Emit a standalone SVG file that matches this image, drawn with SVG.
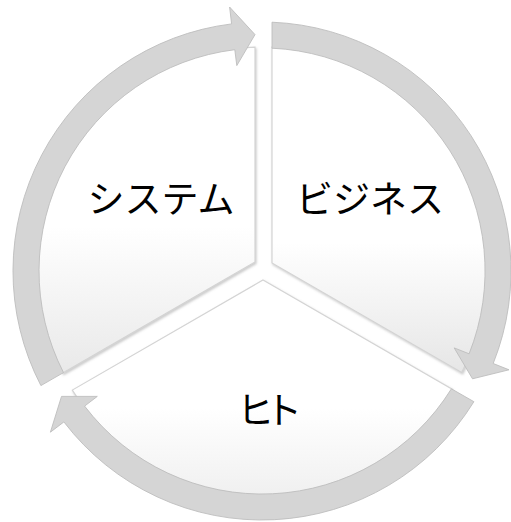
<svg xmlns="http://www.w3.org/2000/svg" width="511" height="522" viewBox="0 0 511 522">
  <style>
    .wedge { stroke: #d4d4d4; stroke-width: 1.2; filter: url(#shadow); }
    .arrow { fill: #d5d5d5; stroke: #bdbdbd; stroke-width: 0.9; stroke-linejoin: miter; }
    .label { font-family: "Noto Sans CJK JP", "Noto Sans", sans-serif; font-size: 37px; fill: #000000; text-anchor: middle; dominant-baseline: central; }
  </style>
  <defs>
    <linearGradient id="gLeft" x1="0" y1="0" x2="0" y2="1">
      <stop offset="0" stop-color="#ffffff"/>
      <stop offset="0.55" stop-color="#ffffff"/>
      <stop offset="1" stop-color="#e9e9e9"/>
    </linearGradient>
    <linearGradient id="gRight" x1="0" y1="0" x2="0" y2="1">
      <stop offset="0" stop-color="#ffffff"/>
      <stop offset="0.6" stop-color="#ffffff"/>
      <stop offset="1" stop-color="#e6e6e6"/>
    </linearGradient>
    <linearGradient id="gBottom" x1="0" y1="0" x2="0" y2="1">
      <stop offset="0" stop-color="#ffffff"/>
      <stop offset="0.6" stop-color="#ffffff"/>
      <stop offset="1" stop-color="#f0f0f0"/>
    </linearGradient>
    <filter id="shadow" x="-10%" y="-10%" width="120%" height="120%">
      <feDropShadow dx="1" dy="1.5" stdDeviation="1.2" flood-color="#8a8a8a" flood-opacity="0.45"/>
    </filter>
  </defs>
  <rect width="511" height="522" fill="#ffffff"/>

  <g id="node-system">
    <path class="wedge" fill="url(#gLeft)" d="M255,262 L62.7,373.1 A224,224 0 0 1 255,47.1 Z"/>
    <text class="label" x="161" y="197">システム</text>
  </g>

  <g id="node-business">
    <path class="wedge" fill="url(#gRight)" d="M272,263 L272,47.2 A224,224 0 0 1 461.7,372.5 Z"/>
    <text class="label" x="370" y="197">ビジネス</text>
  </g>

  <g id="node-hito">
    <path class="wedge" fill="url(#gBottom)" d="M263,280 L452.2,389.3 A224,224 0 0 1 72.3,390.1 Z"/>
    <text class="label" x="265" y="408" letter-spacing="-9">ヒト</text>
  </g>

  <g id="connectors">
    <path class="arrow" d="M272,22.2 A249,249 0 0 1 493.2,363.5 L509,369.8 L472.5,378.8 L454.2,347.9 L469.1,353.8 A223,223 0 0 0 272,48.2 Z"/>
    <path class="arrow" d="M473.9,401.7 A249,249 0 0 1 63.9,421.9 L50.4,432.2 L61.5,396.4 L97.3,396.4 L84.6,406.1 A223,223 0 0 0 451.4,388.8 Z"/>
    <path class="arrow" d="M40.9,385.6 A249,249 0 0 1 231.6,23.9 L229.6,7 L255,34.6 L236.8,65.6 L234.8,49.7 A223,223 0 0 0 63.5,372.6 Z"/>
  </g>
</svg>
